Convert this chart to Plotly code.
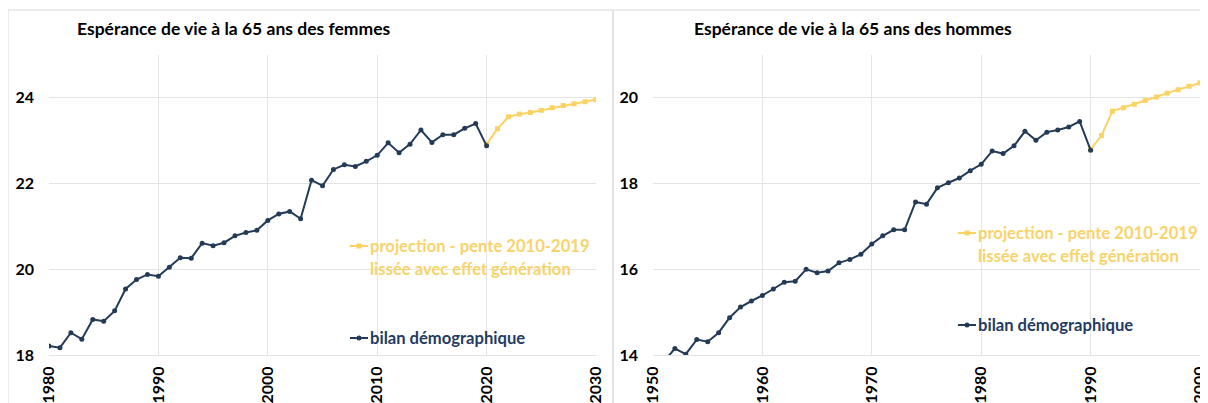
import plotly.graph_objects as go

# ---------------- data ----------------
years_f_bilan = list(range(1980, 2021))
femmes_bilan = [18.21, 18.17, 18.52, 18.37, 18.83, 18.79, 19.03, 19.54, 19.76, 19.88,
                19.84, 20.05, 20.27, 20.26, 20.61, 20.55, 20.62, 20.78, 20.86, 20.91,
                21.14, 21.29, 21.35, 21.18, 22.08, 21.95, 22.33, 22.44, 22.40, 22.52,
                22.66, 22.95, 22.72, 22.92, 23.25, 22.96, 23.14, 23.14, 23.29, 23.40,
                22.88]
years_f_proj = list(range(2020, 2031))
femmes_proj = [22.92, 23.28, 23.56, 23.62, 23.66, 23.71, 23.77, 23.82, 23.86, 23.91, 23.96]

years_h_bilan = list(range(1951, 1991))
hommes_bilan = [13.85, 14.15, 14.02, 14.36, 14.31, 14.52, 14.87, 15.12, 15.26, 15.39,
                15.54, 15.70, 15.72, 16.00, 15.92, 15.96, 16.15, 16.23, 16.35, 16.59,
                16.78, 16.92, 16.92, 17.57, 17.52, 17.90, 18.02, 18.13, 18.30, 18.45,
                18.76, 18.70, 18.88, 19.22, 19.01, 19.20, 19.25, 19.32, 19.45, 18.78]
years_h_proj = list(range(1990, 2001))
hommes_proj = [18.80, 19.12, 19.69, 19.77, 19.85, 19.94, 20.02, 20.11, 20.19, 20.27, 20.35]

titles = ["Espérance de vie à la 65 ans des femmes", "Espérance de vie à la 65 ans des hommes"]
label_proj = ["projection - pente 2010-2019", "lissée avec effet génération"]
label_bilan = "bilan démographique"

# ---------------- style ----------------
# page body has an 8px margin: figure is drawn at offset (8, 8)
OFF = 8
W, H = 1208 - OFF, 403 - OFF
NAVY = "#243B57"
NAVY_TXT = "#1F3B63"
YELLOW = "#FBD363"
YELLOW_TXT = "#F8D36A"
GRID = "#E4E4E4"
FONT = "Lato"


def px(x):
    return (x - OFF) / W


def py(y):
    return (H - (y - OFF)) / H


fig = go.Figure()

fig.add_trace(go.Scatter(x=years_f_proj, y=femmes_proj, mode="lines+markers",
                         line=dict(color=YELLOW, width=2),
                         marker=dict(symbol="square", size=5, color=YELLOW),
                         xaxis="x", yaxis="y", showlegend=False))
fig.add_trace(go.Scatter(x=years_f_bilan, y=femmes_bilan, mode="lines+markers",
                         line=dict(color=NAVY, width=2),
                         marker=dict(symbol="circle", size=5, color=NAVY),
                         xaxis="x", yaxis="y", showlegend=False))
fig.add_trace(go.Scatter(x=years_h_proj, y=hommes_proj, mode="lines+markers",
                         line=dict(color=YELLOW, width=2),
                         marker=dict(symbol="square", size=5, color=YELLOW),
                         xaxis="x2", yaxis="y2", showlegend=False))
fig.add_trace(go.Scatter(x=years_h_bilan, y=hommes_bilan, mode="lines+markers",
                         line=dict(color=NAVY, width=2),
                         marker=dict(symbol="circle", size=5, color=NAVY),
                         xaxis="x2", yaxis="y2", showlegend=False))

tickfont = dict(family=FONT, size=16, color="#000000")
xcommon = dict(dtick=10, tickangle=-90, showgrid=True, gridcolor=GRID, gridwidth=1,
               zeroline=False, showline=True, linecolor=GRID, linewidth=1,
               ticks="", tickfont=tickfont, ticklabelstandoff=4,
               ticklabeloverflow="allow",
               tickprefix="<b>", ticksuffix="</b>", automargin=False)
ycommon = dict(dtick=2, showgrid=True, gridcolor=GRID, gridwidth=1, zeroline=False,
               showline=False, ticks="", tickfont=tickfont, ticklabelstandoff=14,
               tickprefix="<b>", ticksuffix="</b>", automargin=False)

fig.update_layout(
    width=W, height=H,
    margin=dict(l=0, r=0, t=0, b=0),
    paper_bgcolor="white", plot_bgcolor="white",
    xaxis=dict(domain=[px(49), px(596)], range=[1980, 2030], anchor="y", **xcommon),
    yaxis=dict(domain=[py(355), py(55)], range=[18, 25], anchor="x", tick0=18, **ycommon),
    xaxis2=dict(domain=[px(653), px(1200)], range=[1950, 2000], anchor="y2", **xcommon),
    yaxis2=dict(domain=[py(355), py(55)], range=[14, 21], anchor="x2", tick0=14, **ycommon),
)

shapes = []
annotations = []
shapes.append(dict(type="rect", xref="paper", yref="paper", x0=px(8), x1=px(613),
                   y0=-0.05, y1=py(10), line=dict(color="#DADADA", width=1),
                   fillcolor="rgba(0,0,0,0)", layer="below"))
shapes.append(dict(type="rect", xref="paper", yref="paper", x0=px(613), x1=1.05,
                   y0=-0.05, y1=py(10), line=dict(color="#DADADA", width=1),
                   fillcolor="rgba(0,0,0,0)", layer="below"))

for tx, t in zip([75, 692], titles):
    annotations.append(dict(xref="paper", yref="paper", x=px(tx), y=py(28),
                            xanchor="left", yanchor="middle", showarrow=False,
                            text="<b>" + t + "</b>",
                            font=dict(family=FONT, size=17.5, color="#000000")))


def legend_item(x_sym, y_line, color, sym, lines, txtcolor, gap):
    shapes.append(dict(type="line", xref="paper", yref="paper",
                       x0=px(x_sym), x1=px(x_sym + 18), y0=py(y_line), y1=py(y_line),
                       line=dict(color=color, width=2)))
    cx = x_sym + 9
    shapes.append(dict(type="rect" if sym == "square" else "circle", xref="paper", yref="paper",
                       x0=px(cx - 2.5), x1=px(cx + 2.5), y0=py(y_line + 2.5), y1=py(y_line - 2.5),
                       line=dict(width=0), fillcolor=color))
    for i, ln in enumerate(lines):
        annotations.append(dict(xref="paper", yref="paper", x=px(x_sym + 18), y=py(y_line + i * gap),
                                xanchor="left", yanchor="middle", showarrow=False,
                                text="<b>" + ln + "</b>",
                                font=dict(family=FONT, size=16.6, color=txtcolor)))


legend_item(350, 246, YELLOW, "square", label_proj, YELLOW_TXT, 23)
legend_item(350, 338, NAVY, "circle", [label_bilan], NAVY_TXT, 23)
legend_item(958, 233, YELLOW, "square", label_proj, YELLOW_TXT, 23)
legend_item(958, 325, NAVY, "circle", [label_bilan], NAVY_TXT, 23)

fig.update_layout(shapes=shapes, annotations=annotations)

fig.write_html("out.html")
